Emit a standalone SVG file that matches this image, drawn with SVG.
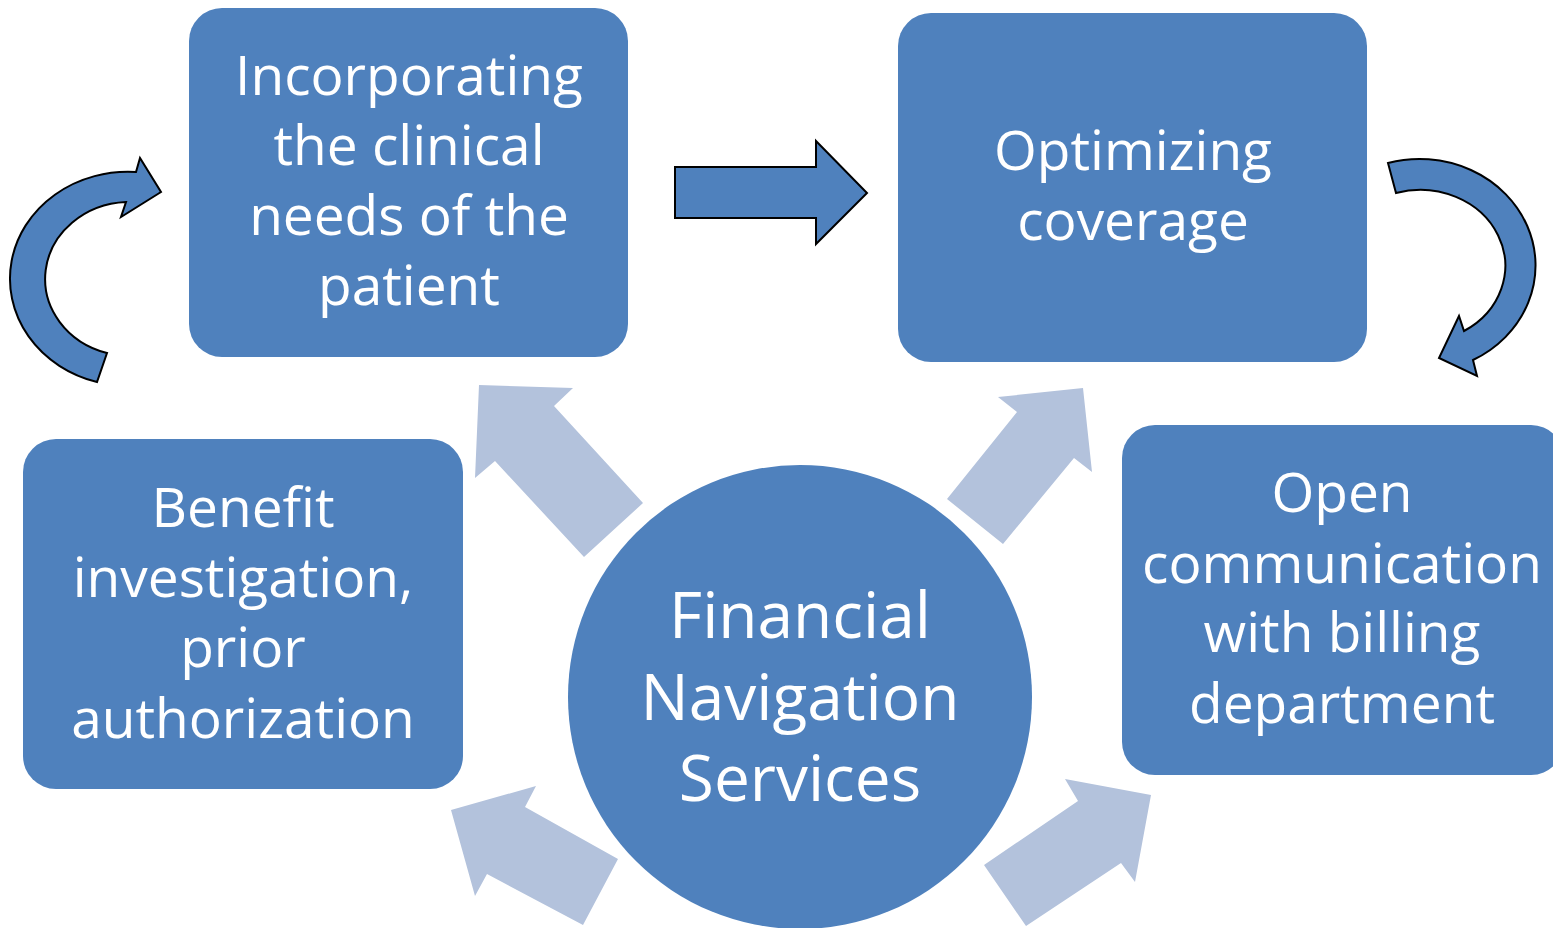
<svg xmlns="http://www.w3.org/2000/svg" width="1553" height="928" viewBox="0 0 1553 928">
<style>
.box{fill:#4F81BD;}
.lbl{fill:#FFFFFF;font-family:"Open Sans","Noto Sans",sans-serif;font-size:55px;text-anchor:middle;}
.big{font-size:64px;}
.light{fill:#B3C2DC;}
.dark{fill:#4F81BD;stroke:#000000;stroke-width:2;stroke-linejoin:miter;}
</style>
<rect x="0" y="0" width="1553" height="928" fill="#FFFFFF"/>
<g id="connectors">
<polygon class="light" points="479,385 573,388 554,406 643,503 584,557 495,461 475,478"/>
<polygon class="light" points="1083,388 998,397 1017,412 947,499 1003,544 1074,458 1092,472"/>
<polygon class="light" points="451,810 536,786 525,807 618,859 583,925 487,874 475,896"/>
<polygon class="light" points="1151,795 1065,779 1078,801 984,865 1026,926 1121,863 1135,882"/>
<polygon class="dark" points="675,167 816,167 816,141 867,193 816,244 816,218 675,218"/>
<path class="dark" d="M136,172 L140,158 L161,192 L121,217 L126,202 A85,77 0 0 0 107,353 L97,382 A118,107 0 0 1 136,172 Z"/>
<path class="dark" d="M1388,163 A116,106.5 0 0 1 1473,360 L1477,376 L1439,358 L1459,316 L1464,331 A85,76 0 0 0 1396,193 Z"/>
</g>
<g id="node-clinical">
<rect class="box" x="189" y="8" width="439" height="349" rx="33"/>
<text class="lbl" x="409" y="95">Incorporating</text>
<text class="lbl" x="409" y="165">the clinical</text>
<text class="lbl" x="409" y="235">needs of the</text>
<text class="lbl" x="409" y="305">patient</text>
</g>
<g id="node-coverage">
<rect class="box" x="898" y="13" width="469" height="349" rx="33"/>
<text class="lbl" x="1133" y="170">Optimizing</text>
<text class="lbl" x="1133" y="240">coverage</text>
</g>
<g id="node-benefit">
<rect class="box" x="23" y="439" width="440" height="350" rx="33"/>
<text class="lbl" x="243" y="527">Benefit</text>
<text class="lbl" x="243" y="597">investigation,</text>
<text class="lbl" x="243" y="667">prior</text>
<text class="lbl" x="243" y="738">authorization</text>
</g>
<g id="node-billing">
<rect class="box" x="1122" y="425" width="442" height="350" rx="33"/>
<text class="lbl" x="1342" y="512">Open</text>
<text class="lbl" x="1342" y="583">communication</text>
<text class="lbl" x="1342" y="652">with billing</text>
<text class="lbl" x="1342" y="723">department</text>
</g>
<g id="node-center">
<circle class="box" cx="800" cy="697" r="232"/>
<text class="lbl big" x="800" y="638">Financial</text>
<text class="lbl big" x="800" y="720">Navigation</text>
<text class="lbl big" x="800" y="801">Services</text>
</g>
</svg>
